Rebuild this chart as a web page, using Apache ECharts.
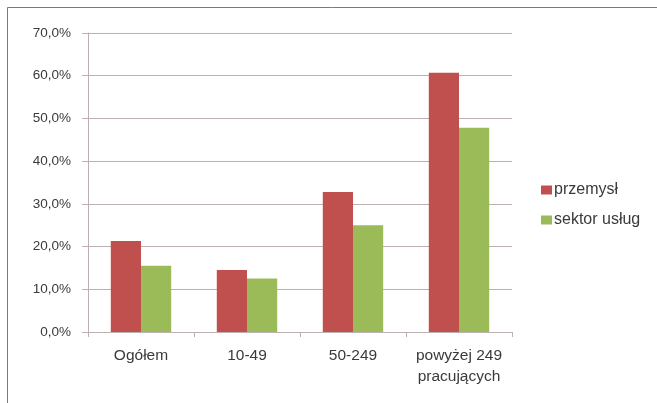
<!DOCTYPE html>
<html>
<head>
<meta charset="utf-8">
<script src="https://cdn.jsdelivr.net/npm/echarts@6/dist/echarts.min.js"></script>
<style>
  html, body { margin: 0; padding: 0; background: #ffffff; }
  #chart { width: 657px; height: 403px; }
</style>
</head>
<body>
<div id="chart"></div>
<script>
// Kategorie wielkości przedsiębiorstw
const categories = ['Ogółem', '10-49', '50-249', 'powyżej 249\npracujących'];
// Udział (%) – przemysł i sektor usług
const przemysl = [21.3, 14.5, 32.8, 60.7];
const sektorUslug = [15.5, 12.5, 25.0, 47.8];
const seriesNames = ['przemysł', 'sektor usług'];

const gridColor = '#bcb0b0';
const textColor = '#3a3a3a';
const fontFamily = '"Liberation Sans", "Noto Sans", sans-serif';

const chart = echarts.init(document.getElementById('chart'), null, { renderer: 'canvas' });

chart.setOption({
  backgroundColor: '#ffffff',
  animation: false,
  textStyle: { fontFamily: fontFamily },
  graphic: [
    {
      type: 'rect',
      shape: { x: 7.5, y: 7.5, width: 700, height: 450 },
      style: { fill: 'none', stroke: '#7a7a7a', lineWidth: 1 },
      silent: true
    }
  ],
  grid: { left: 88, right: 145, top: 33, bottom: 71 },
  legend: {
    orient: 'vertical',
    left: 541,
    top: 182,
    padding: 0,
    itemWidth: 11,
    itemHeight: 9,
    itemGap: 14,
    icon: 'rect',
    textStyle: { color: textColor, fontSize: 16, fontFamily: fontFamily, padding: [0, 0, 0, -3] },
    data: seriesNames
  },
  xAxis: {
    type: 'category',
    data: categories,
    axisLine: { show: true, lineStyle: { color: gridColor, width: 1 } },
    axisTick: { show: true, length: 5, lineStyle: { color: gridColor } },
    axisLabel: {
      interval: 0,
      color: textColor,
      fontSize: 15.5,
      margin: 13,
      lineHeight: 21,
      fontFamily: fontFamily
    }
  },
  yAxis: {
    type: 'value',
    min: 0,
    max: 70,
    interval: 10,
    axisLine: { show: true, lineStyle: { color: gridColor, width: 1 } },
    axisTick: { show: true, inside: false, length: 6, lineStyle: { color: gridColor } },
    splitLine: { show: true, lineStyle: { color: gridColor, width: 1 } },
    axisLabel: {
      color: textColor,
      fontSize: 13.5,
      margin: 17,
      fontFamily: fontFamily,
      formatter: v => v.toFixed(1).replace('.', ',') + '%'
    }
  },
  series: [
    {
      name: seriesNames[0],
      type: 'bar',
      data: przemysl,
      barGap: '0%',
      barCategoryGap: '43%',
      itemStyle: { color: '#c0504d' }
    },
    {
      name: seriesNames[1],
      type: 'bar',
      data: sektorUslug,
      barGap: '0%',
      barCategoryGap: '43%',
      itemStyle: { color: '#9bbb59' }
    }
  ]
});
</script>
</body>
</html>
